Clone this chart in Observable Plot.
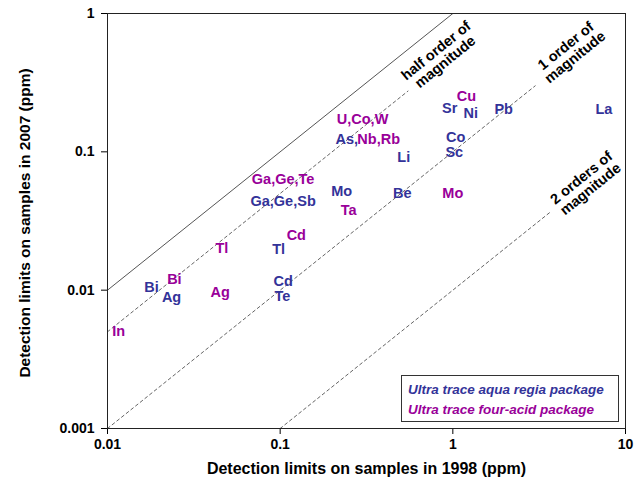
<!DOCTYPE html>
<html>
<head>
<meta charset="utf-8">
<script src="https://cdn.jsdelivr.net/npm/d3@7"></script>
<script src="https://cdn.jsdelivr.net/npm/@observablehq/plot@0.6"></script>
<style>
  html, body { margin: 0; padding: 0; background: #fff; }
  #wrap { position: relative; width: 634px; height: 486px; font-family: "Liberation Sans", Arial, sans-serif; }
  #legend { position: absolute; left: 401px; top: 375px; width: 216px; height: 45px; border: 1px solid #333; background: #fff;
            font-weight: bold; font-style: italic; font-size: 13.5px; box-sizing: content-box; }
  #legend div { position: absolute; left: 6px; white-space: nowrap; }
</style>
</head>
<body>
<div id="wrap"></div>
<script>
// Tick labels
const xTicks = [0.01, 0.1, 1, 10];
const yTicks = [0.001, 0.01, 0.1, 1];

// Ultra trace aqua regia package (blue)
const aquaLabels = ["Ga,Ge,Sb", "Mo", "Tl", "Bi", "Ag", "Cd", "Te", "As,", "Li", "Sr", "Ni", "Pb", "La", "Co", "Sc", "Be"];
const aquaX1998 = [0.104, 0.227, 0.098, 0.018, 0.0235, 0.104, 0.103, 0.243, 0.52, 0.96, 1.27, 1.97, 7.5, 1.04, 1.02, 0.51];
const aquaY2007 = [0.044, 0.052, 0.0197, 0.0104, 0.0089, 0.0116, 0.009, 0.123, 0.091, 0.206, 0.189, 0.202, 0.202, 0.127, 0.099, 0.05];

// Ultra trace four-acid package (purple)
const acidLabels = ["Ga,Ge,Te", "Ta", "Cd", "Tl", "Bi", "Ag", "In", "U,Co,W", "Nb,Rb", "Cu", "Mo"];
const acidX1998 = [0.104, 0.249, 0.124, 0.046, 0.0244, 0.045, 0.0116, 0.30, 0.372, 1.2, 1.0];
const acidY2007 = [0.063, 0.0377, 0.0248, 0.02, 0.0119, 0.0096, 0.005, 0.171, 0.123, 0.251, 0.05];

// Guide lines (ratio 2007/1998), where each is drawn, and their labels
const guideRatios = [1, 0.5, 0.1, 0.01];
const guideDashed = [false, true, true, true];
const guideStartX = [0.01, 0.01, 0.01, 0.1];
const guideEndX = [1, 0.55, 3.0, 3.7];
const guideLabels = ["half order of\nmagnitude", "1 order of\nmagnitude", "2 orders of\nmagnitude"];
const guideLabelX = [0.85, 4.8, 5.9];
const guideLabelY = [0.49, 0.53, 0.059];

const legendNames = ["Ultra trace aqua regia package", "Ultra trace four-acid package"];
const blue = "#333399", purple = "#990099";

const aqua = aquaLabels.map((t, i) => ({t, x: aquaX1998[i], y: aquaY2007[i]}));
const acid = acidLabels.map((t, i) => ({t, x: acidX1998[i], y: acidY2007[i]}));
const xDom = [xTicks[0], xTicks[xTicks.length - 1]];
const guides = guideRatios.flatMap((r, i) => [guideStartX[i], guideEndX[i]].map(x => ({g: i, x, y: x * r, dashed: guideDashed[i]})));
const gLabels = guideLabels.map((t, i) => ({t, x: guideLabelX[i], y: guideLabelY[i]}));

const chart = Plot.plot({
  width: 634, height: 486,
  marginLeft: 107, marginRight: 9, marginTop: 13, marginBottom: 58,
  style: {fontFamily: "'Liberation Sans', Arial, sans-serif", fontSize: "14px", fontWeight: "bold", color: "#000", background: "#fff"},
  x: {type: "log", domain: xDom, ticks: xTicks, tickFormat: d => String(d), tickSize: 6, tickPadding: 5, label: null},
  y: {type: "log", domain: [yTicks[0], yTicks[yTicks.length - 1]], ticks: yTicks, tickFormat: d => String(d), tickSize: 6, tickPadding: 7, label: null},
  marks: [
    Plot.line(guides.filter(d => !d.dashed), {x: "x", y: "y", z: "g", stroke: "#555", strokeWidth: 1, clip: true}),
    Plot.line(guides.filter(d => d.dashed), {x: "x", y: "y", z: "g", stroke: "#666", strokeWidth: 1, strokeDasharray: "3,3", clip: true}),
    Plot.text(gLabels, {x: "x", y: "y", text: "t", rotate: -39, fontSize: 14.5, fill: "#000", lineHeight: 1.0}),
    Plot.text(aqua, {x: "x", y: "y", text: "t", fill: blue, fontSize: 14.5}),
    Plot.text(acid, {x: "x", y: "y", text: "t", fill: purple, fontSize: 14.5}),
    Plot.frame({stroke: "#222"}),
    Plot.text(["Detection limits on samples in 1998 (ppm)"], {frameAnchor: "bottom", text: d => d, dy: 40, textAnchor: "middle", lineAnchor: "middle", fontSize: 16}),
    Plot.text(["Detection limits on samples in 2007 (ppm)"], {frameAnchor: "left", text: d => d, dx: -82, dy: 2, rotate: -90, textAnchor: "middle", lineAnchor: "middle", fontSize: 15.5})
  ]
});

const wrap = document.getElementById("wrap");
wrap.appendChild(chart);
const legend = document.createElement("div");
legend.id = "legend";
[blue, purple].forEach((c, i) => {
  const row = document.createElement("div");
  row.textContent = legendNames[i];
  row.style.color = c;
  row.style.top = (6 + i * 20) + "px";
  legend.appendChild(row);
});
wrap.appendChild(legend);
</script>
</body>
</html>
